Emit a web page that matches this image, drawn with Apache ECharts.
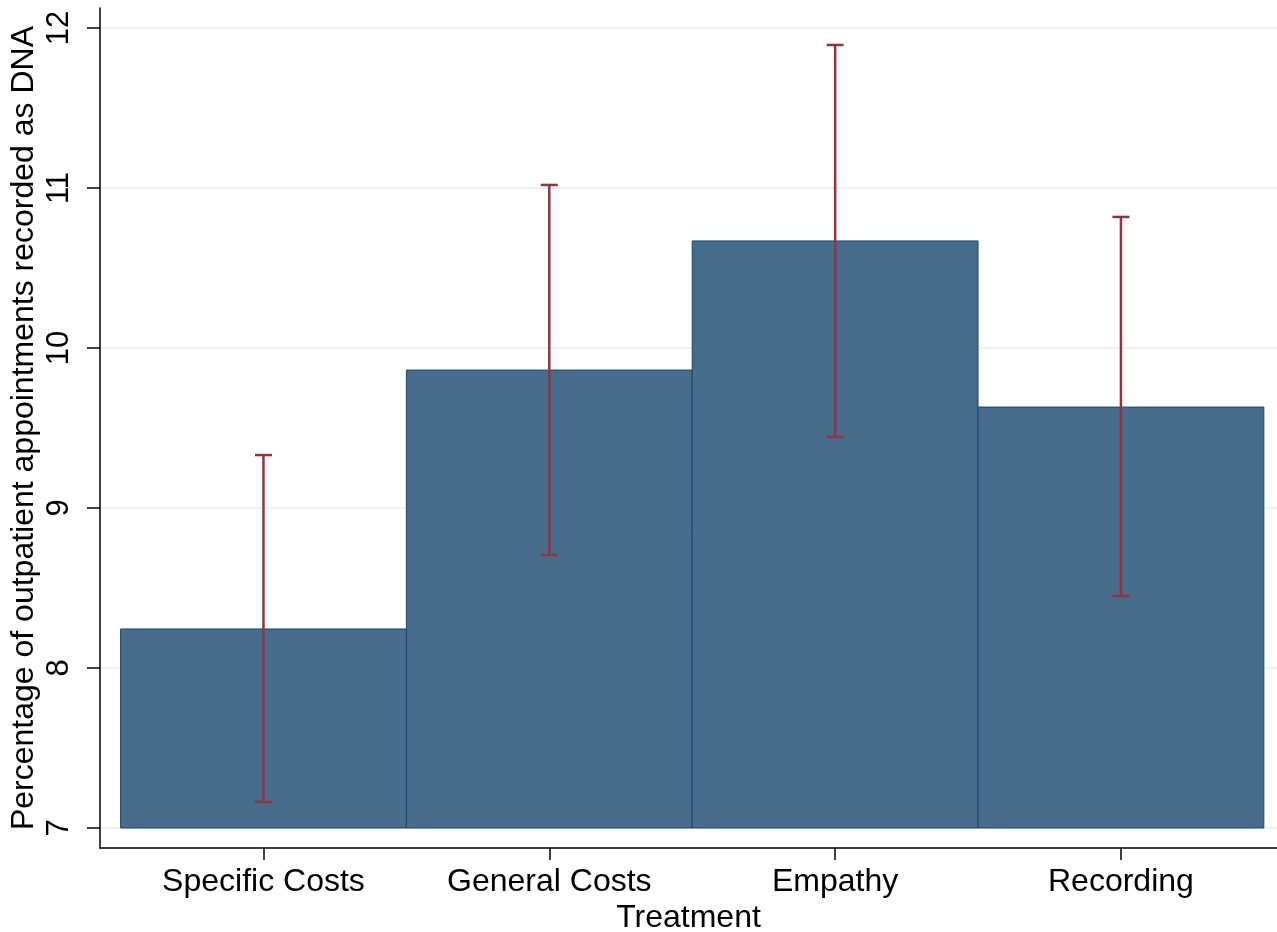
<!DOCTYPE html>
<html>
<head>
<meta charset="utf-8">
<script src="https://cdn.jsdelivr.net/npm/echarts@6/dist/echarts.min.js"></script>
<style>
html,body{margin:0;padding:0;background:#fff;}
#chart{width:1277px;height:932px;}
</style>
</head>
<body>
<div id="chart"></div>
<script>
const categories = ['Specific Costs', 'General Costs', 'Empathy', 'Recording'];
const positions = [1, 2, 3, 4];
const means = [8.244, 9.862, 10.669, 9.631];
const ciLow = [7.163, 8.706, 9.444, 8.45];
const ciHigh = [9.331, 11.019, 11.894, 10.819];
const yTicks = [7, 8, 9, 10, 11, 12];
const barBase = 7;
const barWidthUnits = 1;

const FONT = '"Liberation Sans", Arial, Helvetica, sans-serif';

const barData = positions.map((p, i) => [p, means[i]]);
const errData = positions.map((p, i) => [p, ciLow[i], ciHigh[i]]);

const chart = echarts.init(document.getElementById('chart'), null, {renderer: 'canvas'});
chart.setOption({
  animation: false,
  backgroundColor: '#ffffff',
  grid: {left: 100, right: 0, top: 8, bottom: 84, containLabel: false, outerBoundsMode: 'none'},
  xAxis: {
    type: 'value',
    min: 0.428,
    max: 4.546,
    name: 'Treatment',
    nameLocation: 'middle',
    nameGap: 54,
    nameMoveOverlap: false,
    nameTextStyle: {fontSize: 32, color: '#000', fontFamily: FONT},
    axisLine: {show: true, onZero: false, lineStyle: {color: '#000', width: 1.5}},
    axisTick: {show: true, customValues: positions, length: 12, lineStyle: {color: '#000', width: 1.5}},
    axisLabel: {
      customValues: positions,
      margin: 18,
      fontSize: 32,
      color: '#000',
      fontFamily: FONT,
      formatter: v => categories[positions.indexOf(Math.round(v))] || ''
    },
    splitLine: {show: false}
  },
  yAxis: {
    type: 'value',
    min: 6.875,
    max: 12.125,
    name: 'Percentage of outpatient appointments recorded as DNA',
    nameLocation: 'middle',
    nameRotate: 90,
    nameGap: 60,
    nameMoveOverlap: false,
    nameTextStyle: {fontSize: 32, color: '#000', fontFamily: FONT},
    axisLine: {show: true, onZero: false, lineStyle: {color: '#000', width: 1.5}},
    axisTick: {show: true, customValues: yTicks, length: 13, lineStyle: {color: '#000', width: 1.5}},
    axisLabel: {
      customValues: yTicks,
      rotate: 90,
      margin: 25,
      fontSize: 31,
      color: '#000',
      fontFamily: FONT
    },
    splitLine: {show: true, lineStyle: {color: '#eaf2f3', width: 2}}
  },
  series: [
    {
      type: 'custom',
      name: 'Mean',
      data: barData,
      encode: {x: 0, y: 1},
      z: 2,
      renderItem: function (params, api) {
        const x = api.value(0), v = api.value(1);
        const p0 = api.coord([x - barWidthUnits / 2, barBase]);
        const p1 = api.coord([x + barWidthUnits / 2, v]);
        return {
          type: 'rect',
          shape: {x: p0[0], y: p1[1], width: p1[0] - p0[0], height: p0[1] - p1[1]},
          style: {fill: '#486c8c', stroke: '#1a476f', lineWidth: 1}
        };
      }
    },
    {
      type: 'custom',
      name: 'CI',
      data: errData,
      encode: {x: 0, y: [1, 2]},
      z: 3,
      renderItem: function (params, api) {
        const x = api.value(0);
        const lo = api.coord([x, api.value(1)]);
        const hi = api.coord([x, api.value(2)]);
        const cap = 8.5;
        const st = {stroke: '#90353b', lineWidth: 2.5};
        return {
          type: 'group',
          children: [
            {type: 'line', shape: {x1: lo[0], y1: lo[1], x2: hi[0], y2: hi[1]}, style: st},
            {type: 'line', shape: {x1: lo[0] - cap, y1: lo[1], x2: lo[0] + cap, y2: lo[1]}, style: st},
            {type: 'line', shape: {x1: hi[0] - cap, y1: hi[1], x2: hi[0] + cap, y2: hi[1]}, style: st}
          ]
        };
      }
    }
  ]
});
</script>
</body>
</html>
